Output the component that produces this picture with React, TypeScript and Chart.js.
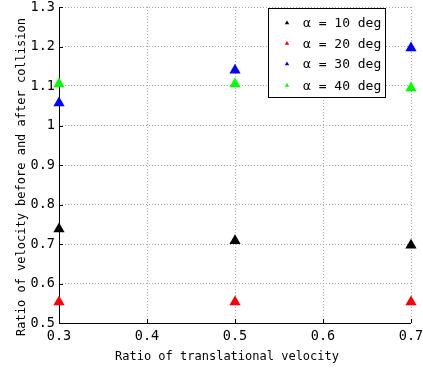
import React, { useEffect, useRef } from "react";
import { Chart, registerables } from "chart.js";

Chart.register(...registerables);

const xValues = [0.3, 0.5, 0.7];
const alpha10 = [0.738, 0.708, 0.697];
const alpha20 = [0.553, 0.553, 0.553];
const alpha30 = [1.057, 1.14, 1.196];
const alpha40 = [1.105, 1.105, 1.095];
const seriesLabels = ["α = 10 deg", "α = 20 deg", "α = 30 deg", "α = 40 deg"];
const seriesColors = ["#000000", "#ff0000", "#0000ff", "#00ff00"];
const xTicks = [0.3, 0.4, 0.5, 0.6, 0.7];
const yTicks = [0.5, 0.6, 0.7, 0.8, 0.9, 1.0, 1.1, 1.2, 1.3];
const xTitle = "Ratio of translational velocity";
const yTitle = "Ratio of velocity before and after collision";

const FONT = "'DejaVu Sans Mono', 'Liberation Mono', monospace";

const legendPlugin = {
  id: "boxLegend",
  afterDraw(chart: any) {
    const { ctx, chartArea } = chart;
    const x0 = Math.round(chartArea.right) - 143;
    const y0 = Math.round(chartArea.top) + 1;
    const w = 117;
    const h = 89;
    ctx.save();
    ctx.fillStyle = "#ffffff";
    ctx.fillRect(x0, y0, w, h);
    ctx.strokeStyle = "#000000";
    ctx.lineWidth = 1;
    ctx.strokeRect(x0 + 0.5, y0 + 0.5, w, h);
    ctx.font = `13px ${FONT}`;
    ctx.textBaseline = "middle";
    ctx.textAlign = "left";
    const rowYs = [15, 35.5, 56, 77.5];
    chart.data.datasets.forEach((ds: any, i: number) => {
      const cy = y0 + rowYs[i];
      const cx = x0 + 19;
      const r = 2.6;
      ctx.fillStyle = ds.backgroundColor;
      ctx.beginPath();
      ctx.moveTo(cx, cy - r);
      ctx.lineTo(cx + r * 0.866, cy + r * 0.5);
      ctx.lineTo(cx - r * 0.866, cy + r * 0.5);
      ctx.closePath();
      ctx.fill();
      ctx.fillStyle = "#000000";
      ctx.fillText(ds.label, x0 + 35, cy + 1);
    });
    ctx.restore();
  },
};

const titlesPlugin = {
  id: "axisTitles",
  afterDraw(chart: any) {
    const { ctx } = chart;
    ctx.save();
    ctx.fillStyle = "#000";
    ctx.font = `12px ${FONT}`;
    ctx.textAlign = "center";
    ctx.textBaseline = "middle";
    ctx.fillText(xTitle, 227, 357);
    ctx.translate(22, 177);
    ctx.rotate(-Math.PI / 2);
    ctx.fillText(yTitle, 0, 0);
    ctx.restore();
  },
};

const innerTicksPlugin = {
  id: "innerTicks",
  beforeDatasetsDraw(chart: any) {
    const { ctx, chartArea, scales } = chart;
    ctx.save();
    ctx.strokeStyle = "#000000";
    ctx.lineWidth = 1;
    ctx.beginPath();
    scales.y.ticks.forEach((t: any) => {
      const y = Math.round(scales.y.getPixelForValue(t.value)) + 0.5;
      ctx.moveTo(chartArea.left, y);
      ctx.lineTo(chartArea.left + 4, y);
    });
    scales.x.ticks.forEach((t: any) => {
      const x = Math.round(scales.x.getPixelForValue(t.value)) + 0.5;
      ctx.moveTo(x, chartArea.bottom);
      ctx.lineTo(x, chartArea.bottom - 4);
    });
    const l = Math.round(chartArea.left) + 0.5;
    const b = Math.round(chartArea.bottom) + 0.5;
    ctx.moveTo(l, chartArea.top);
    ctx.lineTo(l, b);
    ctx.lineTo(chartArea.right, b);
    ctx.stroke();
    ctx.restore();
  },
};

export default function App() {
  const ref = useRef<HTMLCanvasElement | null>(null);
  useEffect(() => {
    if (!ref.current) return;
    const all = [alpha10, alpha20, alpha30, alpha40];
    const chart = new Chart(ref.current, {
      type: "scatter",
      data: {
        datasets: all.map((vals, i) => ({
          label: seriesLabels[i],
          data: xValues.map((x, j) => ({ x, y: vals[j] })),
          backgroundColor: seriesColors[i],
          borderColor: seriesColors[i],
          borderWidth: 0,
          pointStyle: "triangle",
          pointRadius: 6.5,
          pointHoverRadius: 6.5,
          clip: false,
        })),
      },
      options: {
        animation: false,
        responsive: false,
        maintainAspectRatio: false,
        layout: { padding: { top: 7, right: 12, left: 0, bottom: 0 } },
        plugins: {
          legend: { display: false },
          tooltip: { enabled: false },
        },
        scales: {
          x: {
            type: "linear",
            min: 0.3,
            max: 0.7,
            afterBuildTicks(scale: any) {
              scale.ticks = xTicks.map((v) => ({ value: v }));
            },
            afterFit(scale: any) {
              scale.height = 46;
              scale.paddingLeft = 0;
              scale.paddingRight = 0;
              scale.paddingTop = 0;
              scale.paddingBottom = 0;
            },
            ticks: {
              color: "#000",
              font: { family: FONT, size: 13.5 },
              padding: 5,
              maxRotation: 0,
              callback: (v: any) => String(Number(v)),
            },
            grid: {
              color: "#aaaaaa",
              lineWidth: 1,
              drawTicks: false,
              tickLength: 0,
            },
            border: { display: false, color: "#000", dash: [1, 2], width: 1 },
            title: { display: false },
          },
          y: {
            type: "linear",
            min: 0.5,
            max: 1.3,
            afterBuildTicks(scale: any) {
              scale.ticks = yTicks.map((v) => ({ value: v }));
            },
            afterFit(scale: any) {
              scale.width = 59;
              scale.paddingLeft = 0;
              scale.paddingRight = 0;
              scale.paddingTop = 0;
              scale.paddingBottom = 0;
            },
            ticks: {
              color: "#000",
              font: { family: FONT, size: 13.5 },
              padding: 4,
              callback: (v: any) => String(Number(Number(v).toFixed(1))),
            },
            grid: {
              color: "#aaaaaa",
              lineWidth: 1,
              drawTicks: false,
              tickLength: 0,
            },
            border: { display: false, color: "#000", dash: [1, 2], width: 1 },
            title: { display: false },
          },
        },
      },
      plugins: [innerTicksPlugin, legendPlugin, titlesPlugin],
    } as any);
    return () => chart.destroy();
  }, []);

  return (
    <div style={{ position: "absolute", left: 0, top: 0, width: 423, height: 369, background: "#fff" }}>
      <canvas ref={ref} width={423} height={369} style={{ display: "block" }} />
    </div>
  );
}
